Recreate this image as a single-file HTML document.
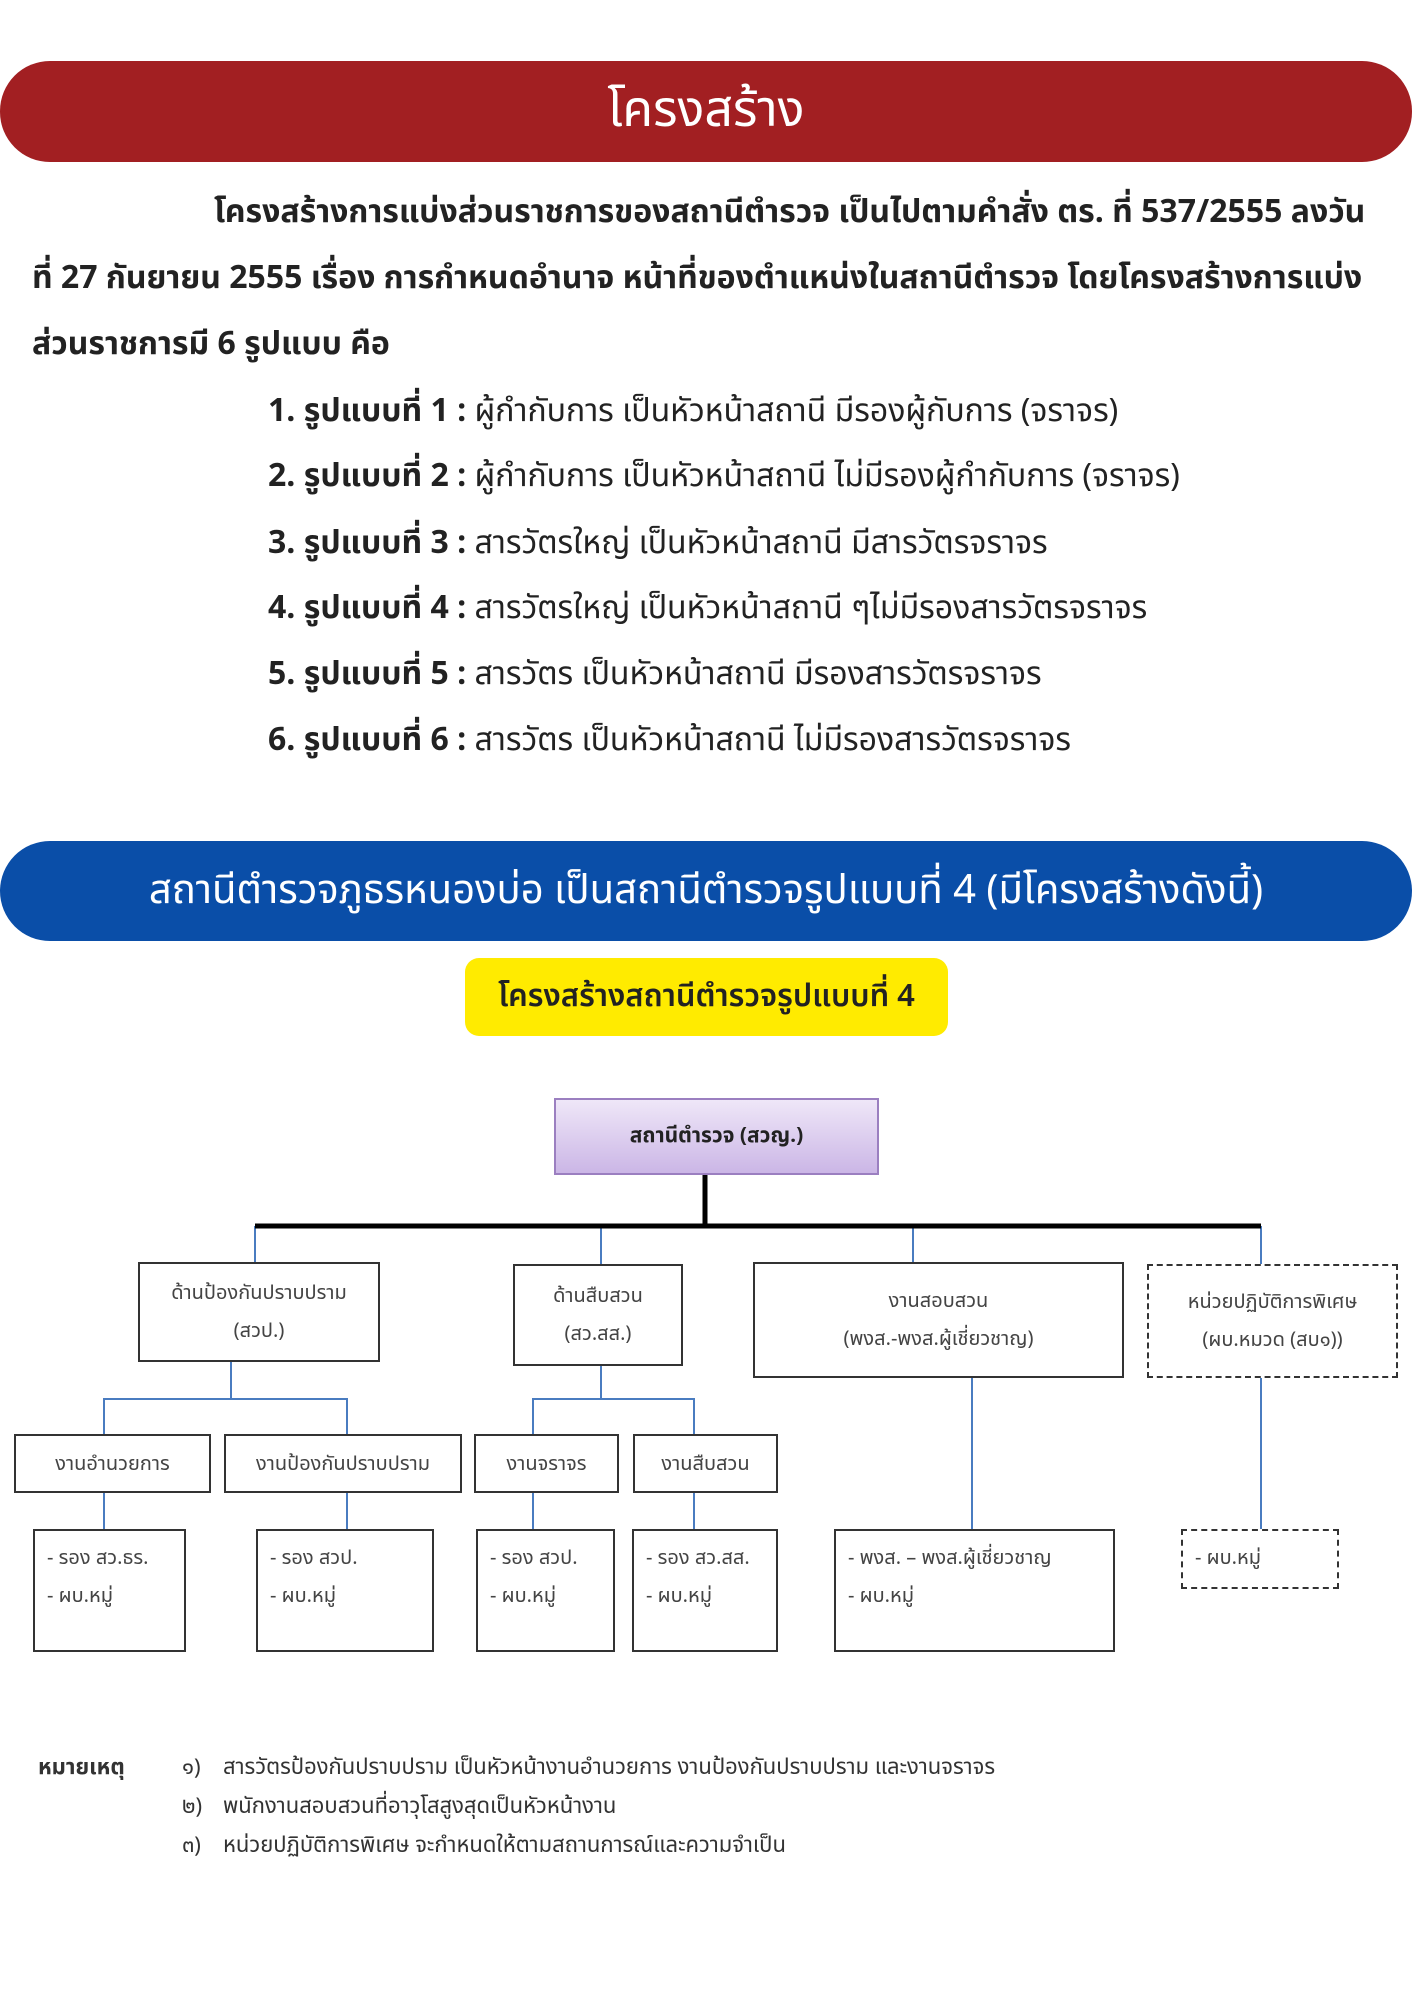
<!DOCTYPE html>
<html><head><meta charset="utf-8"><style>
body{margin:0;width:1414px;height:2000px;background:#fff;position:relative;overflow:hidden;font-family:"Noto Sans Thai","Tlwg Typo","Loma","Garuda","Liberation Sans",sans-serif;color:#222}
.a{position:absolute}
.ban{position:absolute;left:0;width:1412px;border-radius:50px;color:#fff;text-align:center}
.p{position:absolute;font-size:32px;font-weight:bold;white-space:nowrap;color:#222}
.li{position:absolute;left:268px;font-size:32px;white-space:nowrap}
.li b{font-weight:bold}
.box{position:absolute;border:2px solid #333;box-sizing:border-box;background:#fff;font-size:20px;color:#444;text-align:center;display:flex;flex-direction:column;justify-content:center;line-height:38px}
.dash{border:2px dashed #333}
.lt{text-align:left;justify-content:flex-start;padding:8px 0 0 12px}
.n{position:absolute;font-size:22px;color:#333;white-space:nowrap}
</style></head><body>
<div class="ban" style="top:61px;height:101px;background:#a21f22;font-size:50px;line-height:101px">โครงสร้าง</div>
<div class="p" style="left:214px;top:189px">โครงสร้างการแบ่งส่วนราชการของสถานีตำรวจ เป็นไปตามคำสั่ง ตร. ที่ 537/2555 ลงวัน</div>
<div class="p" style="left:32px;top:255px">ที่ 27 กันยายน 2555 เรื่อง การกำหนดอำนาจ หน้าที่ของตำแหน่งในสถานีตำรวจ โดยโครงสร้างการแบ่ง</div>
<div class="p" style="left:32px;top:321px">ส่วนราชการมี 6 รูปแบบ คือ</div>
<div class="li" style="top:388px"><b>1. รูปแบบที่ 1 :</b> ผู้กำกับการ เป็นหัวหน้าสถานี มีรองผู้กับการ (จราจร)</div>
<div class="li" style="top:453px"><b>2. รูปแบบที่ 2 :</b> ผู้กำกับการ เป็นหัวหน้าสถานี ไม่มีรองผู้กำกับการ (จราจร)</div>
<div class="li" style="top:520px"><b>3. รูปแบบที่ 3 :</b> สารวัตรใหญ่ เป็นหัวหน้าสถานี มีสารวัตรจราจร</div>
<div class="li" style="top:585px"><b>4. รูปแบบที่ 4 :</b> สารวัตรใหญ่ เป็นหัวหน้าสถานี ๆไม่มีรองสารวัตรจราจร</div>
<div class="li" style="top:651px"><b>5. รูปแบบที่ 5 :</b> สารวัตร เป็นหัวหน้าสถานี มีรองสารวัตรจราจร</div>
<div class="li" style="top:717px"><b>6. รูปแบบที่ 6 :</b> สารวัตร เป็นหัวหน้าสถานี ไม่มีรองสารวัตรจราจร</div>
<div class="ban" style="top:841px;height:100px;background:#0a4ea8;font-size:40px;line-height:100px">สถานีตำรวจภูธรหนองบ่อ เป็นสถานีตำรวจรูปแบบที่ 4 (มีโครงสร้างดังนี้)</div>
<div class="a" style="left:465px;top:958px;width:483px;height:78px;background:#ffeb00;border-radius:14px;font-size:31px;font-weight:600;text-align:center;line-height:78px">โครงสร้างสถานีตำรวจรูปแบบที่ 4</div>

<svg class="a" style="left:0;top:0" width="1414" height="2000">
<g stroke="#4a7cc0" stroke-width="2" fill="none">
<path d="M255 1226V1264M601 1226V1264M913 1226V1264M1261 1226V1264"/>
<path d="M231 1362V1399M104 1434V1399H347V1434M601 1366V1399M533 1434V1399H694V1434"/>
<path d="M104 1493V1529M347 1493V1529M533 1493V1529M694 1493V1529M972 1378V1529M1261 1378V1529"/>
</g>
<path d="M705 1175V1226M255 1226H1261" stroke="#000" stroke-width="5" fill="none"/>
</svg>

<div class="box" style="left:554px;top:1098px;width:325px;height:77px;border-color:#9b7fc0;background:linear-gradient(#efe7f8,#cbb6e6);font-weight:bold;color:#222;font-size:21px">สถานีตำรวจ (สวญ.)</div>
<div class="box" style="left:138px;top:1262px;width:242px;height:100px">ด้านป้องกันปราบปราม<br>(สวป.)</div>
<div class="box" style="left:513px;top:1264px;width:170px;height:102px">ด้านสืบสวน<br>(สว.สส.)</div>
<div class="box" style="left:753px;top:1262px;width:371px;height:116px">งานสอบสวน<br>(พงส.-พงส.ผู้เชี่ยวชาญ)</div>
<div class="box dash" style="left:1147px;top:1264px;width:251px;height:114px">หน่วยปฏิบัติการพิเศษ<br>(ผบ.หมวด (สบ๑))</div>
<div class="box" style="left:14px;top:1434px;width:197px;height:59px">งานอำนวยการ</div>
<div class="box" style="left:224px;top:1434px;width:238px;height:59px">งานป้องกันปราบปราม</div>
<div class="box" style="left:474px;top:1434px;width:145px;height:59px">งานจราจร</div>
<div class="box" style="left:633px;top:1434px;width:145px;height:59px">งานสืบสวน</div>
<div class="box lt" style="left:33px;top:1529px;width:153px;height:123px">- รอง สว.ธร.<br>- ผบ.หมู่</div>
<div class="box lt" style="left:256px;top:1529px;width:178px;height:123px">- รอง สวป.<br>- ผบ.หมู่</div>
<div class="box lt" style="left:476px;top:1529px;width:139px;height:123px">- รอง สวป.<br>- ผบ.หมู่</div>
<div class="box lt" style="left:632px;top:1529px;width:146px;height:123px">- รอง สว.สส.<br>- ผบ.หมู่</div>
<div class="box lt" style="left:834px;top:1529px;width:281px;height:123px">- พงส. – พงส.ผู้เชี่ยวชาญ<br>- ผบ.หมู่</div>
<div class="box lt dash" style="left:1181px;top:1529px;width:158px;height:60px">- ผบ.หมู่</div>

<div class="n" style="left:38px;top:1751px;font-weight:bold">หมายเหตุ</div>
<div class="n" style="left:182px;top:1751px">๑)</div>
<div class="n" style="left:223px;top:1751px">สารวัตรป้องกันปราบปราม เป็นหัวหน้างานอำนวยการ งานป้องกันปราบปราม และงานจราจร</div>
<div class="n" style="left:182px;top:1790px">๒)</div>
<div class="n" style="left:223px;top:1790px">พนักงานสอบสวนที่อาวุโสสูงสุดเป็นหัวหน้างาน</div>
<div class="n" style="left:182px;top:1829px">๓)</div>
<div class="n" style="left:223px;top:1829px">หน่วยปฏิบัติการพิเศษ จะกำหนดให้ตามสถานการณ์และความจำเป็น</div>
</body></html>
